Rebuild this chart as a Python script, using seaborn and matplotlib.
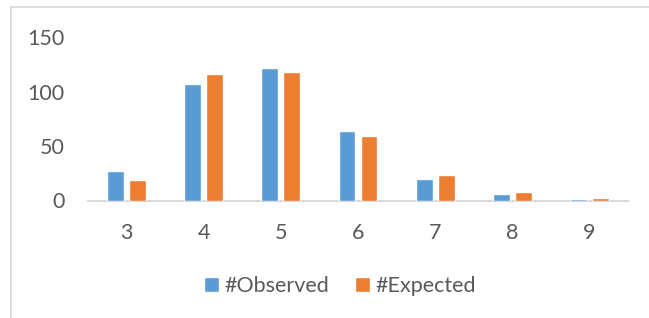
import pandas as pd
import matplotlib.pyplot as plt
import matplotlib.lines as mlines
import seaborn as sns

# --- Data ---
categories = ['3', '4', '5', '6', '7', '8', '9']
observed = [27, 107, 122, 64, 20, 6, 1.5]
expected = [19, 116, 118, 59, 23, 8, 2.5]
series_names = ['#Observed', '#Expected']
colors = ['#5B9BD5', '#ED7D31']
y_ticks = [0, 50, 100, 150]

df = pd.DataFrame({
    'category': categories * 2,
    'value': observed + expected,
    'series': [series_names[0]] * len(categories) + [series_names[1]] * len(categories),
})

sns.set_style('white')
plt.rcParams['font.family'] = ['Lato', 'DejaVu Sans']
TEXT = '#595959'

fig = plt.figure(figsize=(6.49, 3.18), dpi=100)
ax = fig.add_axes([88 / 649, (318 - 200.5) / 318, 540 / 649, 163.5 / 318])

sns.barplot(data=df, x='category', y='value', hue='series', palette=colors,
            width=0.57, gap=0.23, ax=ax, saturation=1, legend=True)

ax.set_ylim(0, 150)
ax.set_yticks(y_ticks)
ax.set_xlabel('')
ax.set_ylabel('')
ax.tick_params(axis='y', length=0, pad=17, labelsize=15.5, labelcolor=TEXT)
ax.tick_params(axis='x', length=0, pad=16, labelsize=15.5, labelcolor=TEXT)
for side in ['left', 'right', 'top']:
    ax.spines[side].set_visible(False)
# axis line sits under the bars so the tiny bars stay visible
ax.spines['bottom'].set_color('#D9D9D9')
ax.spines['bottom'].set_linewidth(1.5)
ax.spines['bottom'].set_zorder(0.5)

# legend below the plot
handles, labels = ax.get_legend_handles_labels()
ax.legend_.remove()
fig.legend(handles, labels, loc='center', bbox_to_anchor=(340 / 649, 1 - 286 / 318),
           ncol=2, frameon=False, fontsize=15.5, labelcolor=TEXT,
           handlelength=0.7, handleheight=0.7, handletextpad=0.25, columnspacing=1.2)

# chart border (only top and left visible in the crop)
border = '#D9D9D9'
fig.add_artist(mlines.Line2D([11 / 649, 1], [1 - 7 / 318, 1 - 7 / 318], color=border, lw=1.2))
fig.add_artist(mlines.Line2D([11 / 649, 11 / 649], [0, 1 - 7 / 318], color=border, lw=1.2))

fig.savefig('out.png', dpi=100)
